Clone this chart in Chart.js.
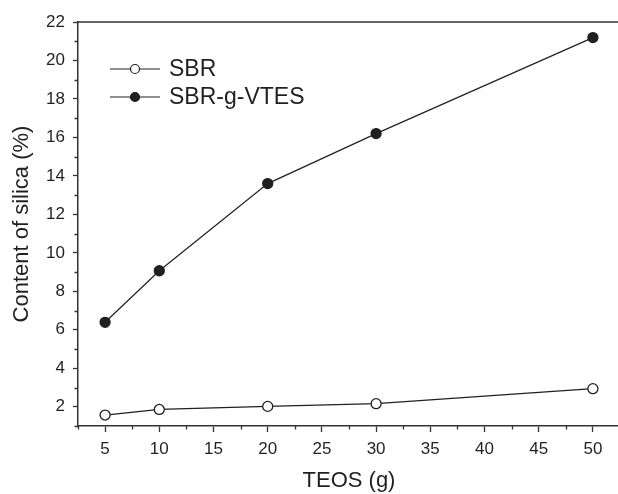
<!DOCTYPE html>
<html>
<head>
<meta charset="utf-8">
<script src="https://cdn.jsdelivr.net/npm/chart.js@4.4.1/dist/chart.umd.min.js"></script>
<style>
  html, body { margin: 0; padding: 0; background: #fff; overflow: hidden; }
  #wrap { width: 620px; height: 494px; }
</style>
</head>
<body>
<div id="wrap"><canvas id="chart" width="620" height="494"></canvas></div>
<script>
// TEOS (g)
const teos = [5, 10, 20, 30, 50];
// Content of silica (%)
const sbr      = [1.57, 1.86, 2.02, 2.16, 2.94];
const sbrVtes  = [6.39, 9.07, 13.6, 16.2, 21.19];

const seriesNames = ['SBR', 'SBR-g-VTES'];
const xTicks = [5, 10, 15, 20, 25, 30, 35, 40, 45, 50];
const xMinor = [2.5, 7.5, 12.5, 17.5, 22.5, 27.5, 32.5, 37.5, 42.5, 47.5, 52.5];
const yTicks = [2, 4, 6, 8, 10, 12, 14, 16, 18, 20, 22];
const yMinor = [1, 3, 5, 7, 9, 11, 13, 15, 17, 19, 21];

const ink = '#231f20';
const axisInk = '#333333';
const fontFamily = '"Liberation Sans", Arial, sans-serif';

const toPoints = ys => teos.map((x, i) => ({ x, y: ys[i] }));

// kleine ticks, kader en legende
const extrasPlugin = {
  id: 'extras',
  afterDraw(chart) {
    const { ctx, chartArea: a, scales: { x, y } } = chart;
    ctx.save();
    ctx.strokeStyle = axisInk;
    ctx.lineWidth = 1.3;
    ctx.beginPath();
    xMinor.forEach(v => {
      const px = Math.round(x.getPixelForValue(v)) + 0.5;
      ctx.moveTo(px, a.bottom);
      ctx.lineTo(px, a.bottom + 3.5);
    });
    yMinor.forEach(v => {
      const py = Math.round(y.getPixelForValue(v)) + 0.5;
      ctx.moveTo(a.left, py);
      ctx.lineTo(a.left - 3.5, py);
    });
    ctx.stroke();

    // top en rechts
    ctx.lineWidth = 1.5;
    ctx.beginPath();
    ctx.moveTo(a.left, a.top);
    ctx.lineTo(a.right, a.top);
    ctx.lineTo(a.right, a.bottom);
    ctx.stroke();

    // legende
    const rows = [69, 97];
    seriesNames.forEach((name, i) => {
      const ds = chart.data.datasets[i];
      const ly = rows[i];
      ctx.strokeStyle = ink;
      ctx.lineWidth = 1.2;
      ctx.beginPath();
      ctx.moveTo(110, ly);
      ctx.lineTo(130, ly);
      ctx.moveTo(140, ly);
      ctx.lineTo(160, ly);
      ctx.stroke();
      ctx.beginPath();
      ctx.arc(135, ly, 4.5, 0, Math.PI * 2);
      ctx.fillStyle = ds.pointBackgroundColor;
      ctx.fill();
      ctx.lineWidth = 1.2;
      ctx.stroke();
      ctx.fillStyle = ink;
      ctx.font = '23px ' + fontFamily;
      ctx.textBaseline = 'middle';
      ctx.fillText(name, 169, ly + 1);
    });
    ctx.restore();
  }
};

new Chart(document.getElementById('chart'), {
  type: 'line',
  data: {
    datasets: [
      {
        label: seriesNames[0], data: toPoints(sbr),
        borderColor: ink, borderWidth: 1.2,
        pointRadius: 5, pointBorderWidth: 1.3,
        pointBackgroundColor: '#ffffff', pointBorderColor: ink
      },
      {
        label: seriesNames[1], data: toPoints(sbrVtes),
        borderColor: ink, borderWidth: 1.2,
        pointRadius: 5, pointBorderWidth: 1.3,
        pointBackgroundColor: ink, pointBorderColor: ink
      }
    ]
  },
  options: {
    responsive: false,
    animation: false,
    layout: { autoPadding: false, padding: { top: 22, right: 0, left: 0, bottom: 0 } },
    plugins: { legend: { display: false }, tooltip: { enabled: false } },
    scales: {
      x: {
        type: 'linear', min: 2.5, max: 52.5,
        afterBuildTicks: s => { s.ticks = xTicks.map(v => ({ value: v })); },
        afterFit: s => {
          s.height = 68;
          s.paddingLeft = 0; s.paddingRight = 0;
        },
        grid: { drawOnChartArea: false, drawTicks: true, tickLength: 6, color: axisInk, tickWidth: 1.3 },
        border: { display: true, color: axisInk, width: 1.5 },
        ticks: { color: ink, padding: 7, font: { size: 17, family: fontFamily }, maxRotation: 0 },
        title: { display: true, text: 'TEOS (g)', color: ink, font: { size: 22, family: fontFamily }, padding: { top: 0, bottom: 0 } }
      },
      y: {
        type: 'linear', min: 1, max: 22,
        afterBuildTicks: s => { s.ticks = yTicks.map(v => ({ value: v })); },
        afterFit: s => {
          s.width = 78;
          s.paddingTop = 0; s.paddingBottom = 0;
        },
        grid: { drawOnChartArea: false, drawTicks: true, tickLength: 5, color: axisInk, tickWidth: 1.3 },
        border: { display: true, color: axisInk, width: 1.5 },
        ticks: { color: ink, padding: 8, font: { size: 17, family: fontFamily } },
        title: { display: true, text: 'Content of silica (%)', color: ink, font: { size: 22, family: fontFamily }, padding: { top: 9, bottom: 0 } }
      }
    }
  },
  plugins: [extrasPlugin]
});
</script>
</body>
</html>
